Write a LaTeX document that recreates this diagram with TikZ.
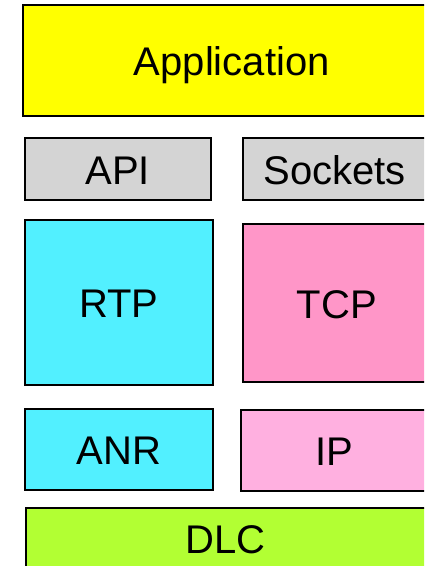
\documentclass[tikz,border=0pt]{standalone}
\usepackage{fontspec}
\setmainfont{Liberation Sans}
\usepackage{xcolor}
\usetikzlibrary{positioning}

\definecolor{appyellow}{HTML}{FFFF00}
\definecolor{apigray}{HTML}{D4D4D4}
\definecolor{rtpcyan}{HTML}{52F0FF}
\definecolor{tcppink}{HTML}{FF96C8}
\definecolor{ippink}{HTML}{FFB0E0}
\definecolor{dlcgreen}{HTML}{B2FF33}

\begin{document}
\begin{tikzpicture}[x=1pt, y=-1pt,
    layer/.style={rectangle, draw, line width=1.5pt, inner sep=0pt, anchor=north west, text height=31pt, text depth=0pt, font=\fontsize{40}{44}\selectfont}
]
    \useasboundingbox (0,0) rectangle (424,566);
    \clip (0,0) rectangle (424,566);

    \node[layer, fill=appyellow, minimum width=418pt, minimum height=111pt] (app) at (22,4) {Application};
    \node[layer, fill=apigray, minimum width=186pt, minimum height=62pt] (api) at (24,137) {API};
    \node[layer, fill=apigray, minimum width=184pt, minimum height=62pt] (sockets) at (242,137) {Sockets};
    \node[layer, fill=rtpcyan, minimum width=188pt, minimum height=165pt] (rtp) at (24,219) {RTP};
    \node[layer, fill=tcppink, minimum width=188pt, minimum height=158pt] (tcp) at (242,223) {TCP};
    \node[layer, fill=rtpcyan, minimum width=188pt, minimum height=81pt] (anr) at (24,408) {ANR};
    \node[layer, fill=ippink, minimum width=188pt, minimum height=81pt] (ip) at (240,409) {IP};
    \node[layer, fill=dlcgreen, minimum width=400pt, minimum height=60pt] (dlc) at (25,507) {DLC};
\end{tikzpicture}
\end{document}
